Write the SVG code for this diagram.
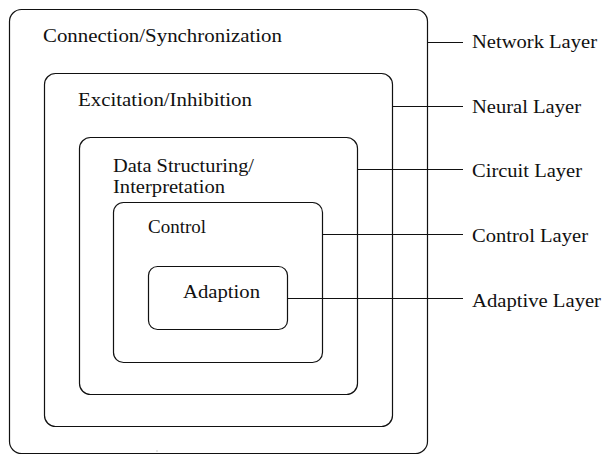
<svg xmlns="http://www.w3.org/2000/svg" width="603" height="456" viewBox="0 0 603 456">
  <style>
    .box { fill: none; stroke: #111; stroke-width: 1.2; }
    .lead { stroke: #111; stroke-width: 1.2; fill: none; }
    text { font-family: "Liberation Serif", "Times New Roman", serif; font-size: 18px; fill: #111; }
  </style>
  <rect x="0" y="0" width="603" height="456" fill="#fff"/>

  <!-- nested layers, outermost first -->
  <g id="network">
    <rect class="box" x="9.5" y="9.5" width="418" height="444" rx="12"/>
    <text x="43" y="42" textLength="239" lengthAdjust="spacingAndGlyphs">Connection/Synchronization</text>
  </g>
  <g id="neural">
    <rect class="box" x="44.5" y="73.5" width="348" height="353" rx="11"/>
    <text x="78" y="106" textLength="174" lengthAdjust="spacingAndGlyphs">Excitation/Inhibition</text>
  </g>
  <g id="circuit">
    <rect class="box" x="79.5" y="137.5" width="278" height="257" rx="11"/>
    <text x="113" y="172" textLength="141" lengthAdjust="spacingAndGlyphs">Data Structuring/</text>
    <text x="113" y="193" textLength="112" lengthAdjust="spacingAndGlyphs">Interpretation</text>
  </g>
  <g id="control">
    <rect class="box" x="113.5" y="202.5" width="209" height="160" rx="10"/>
    <text x="148" y="233" textLength="58" lengthAdjust="spacingAndGlyphs">Control</text>
  </g>
  <g id="adaption">
    <rect class="box" x="148.5" y="266.5" width="139" height="63" rx="9"/>
    <text x="183" y="298" textLength="77" lengthAdjust="spacingAndGlyphs">Adaption</text>
  </g>

  <!-- leader lines out to the layer names -->
  <g id="connectors">
    <line class="lead" x1="427.5" y1="42.5" x2="463" y2="42.5"/>
    <line class="lead" x1="392.5" y1="106.5" x2="463" y2="106.5"/>
    <line class="lead" x1="357.5" y1="169.5" x2="463" y2="169.5"/>
    <line class="lead" x1="322.5" y1="234.5" x2="463" y2="234.5"/>
    <line class="lead" x1="287.5" y1="298.5" x2="463" y2="298.5"/>
  </g>

  <g id="layer-names">
    <text x="472" y="48" textLength="125" lengthAdjust="spacingAndGlyphs">Network Layer</text>
    <text x="472" y="113" textLength="109" lengthAdjust="spacingAndGlyphs">Neural Layer</text>
    <text x="472" y="177" textLength="110" lengthAdjust="spacingAndGlyphs">Circuit Layer</text>
    <text x="472" y="242" textLength="116" lengthAdjust="spacingAndGlyphs">Control Layer</text>
    <text x="472" y="307" textLength="129" lengthAdjust="spacingAndGlyphs">Adaptive Layer</text>
  </g>

  <rect x="156.5" y="450.5" width="1" height="1" fill="#999"/>
</svg>
